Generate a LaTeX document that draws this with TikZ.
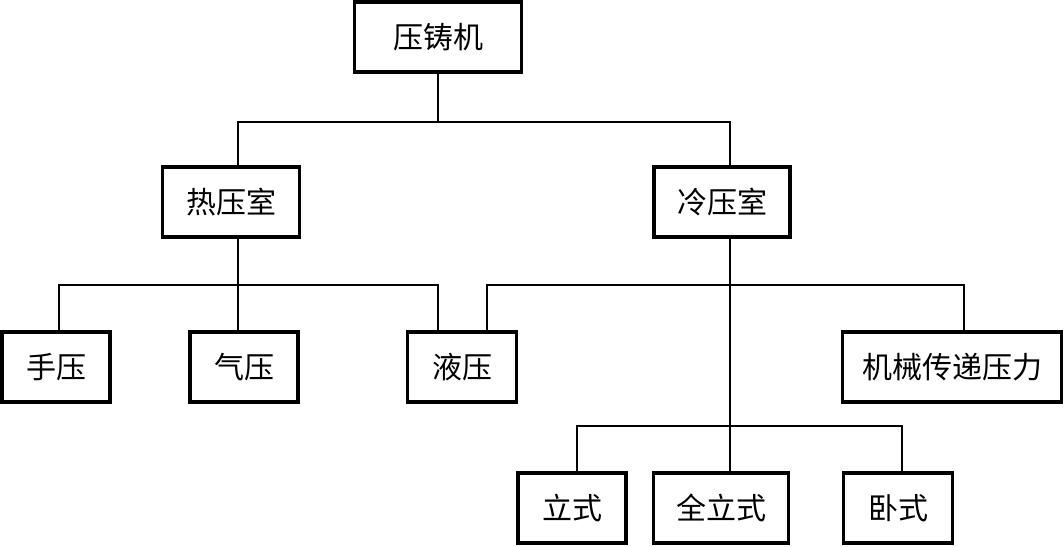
\documentclass[tikz,border=0pt]{standalone}
\usepackage{fontspec}
\newfontfamily\cjk{Noto Sans CJK SC}
\usetikzlibrary{calc}

\tikzset{
  box/.style={draw, line width=3.5pt, minimum height=70pt, inner sep=0pt,
    font=\cjk\fontsize{30}{32}\selectfont},
  link/.style={line width=2.5pt},
}

\begin{document}
\begin{tikzpicture}[x=1pt, y=-1pt]
    \useasboundingbox (0,0) rectangle (1064,546);

    % top level
    \node[box, minimum width=167pt] (yzj) at (438,37) {压铸机};

    % second level
    \node[box, minimum width=137pt] (rys) at (231,202) {热压室};
    \node[box, minimum width=136pt] (lys) at (722,202) {冷压室};

    % third level
    \node[box, minimum width=108pt] (sy) at (56,367) {手压};
    \node[box, minimum width=108pt] (qy) at (244,367) {气压};
    \node[box, minimum width=109pt] (yy) at (462,367) {液压};
    \node[box, minimum width=219pt] (jx) at (952,367) {机械传递压力};

    % fourth level
    \node[box, minimum width=108pt] (ls) at (572,508) {立式};
    \node[box, minimum width=135pt] (qls) at (721,508) {全立式};
    \node[box, minimum width=109pt] (ws) at (898,508) {卧式};

    % connectors
    \draw[link] (yzj.south) -- ++(0,48) coordinate (t1);
    \draw[link] ($(rys.north)+(7,0)$) |- (t1) -| ($(lys.north)+(8,0)$);

    \draw[link] ($(rys.south)+(7,0)$) -- ++(0,46) coordinate (t2);
    \draw[link] ($(sy.north)+(3,0)$) |- (t2) -| ($(yy.north)+(-24,0)$);
    \draw[link] (t2) -- (qy.north -| t2);

    \draw[link] ($(lys.south)+(8,0)$) -- ++(0,187) coordinate (t4);
    \coordinate (t3) at ($(lys.south)+(8,46)$);
    \draw[link] ($(yy.north)+(25,0)$) |- (t3) -| ($(jx.north)+(12,0)$);
    \draw[link] ($(ls.north)+(5,0)$) |- (t4) -| ($(ws.north)+(4,0)$);
    \draw[link] (t4) -- (qls.north -| t4);
\end{tikzpicture}
\end{document}
